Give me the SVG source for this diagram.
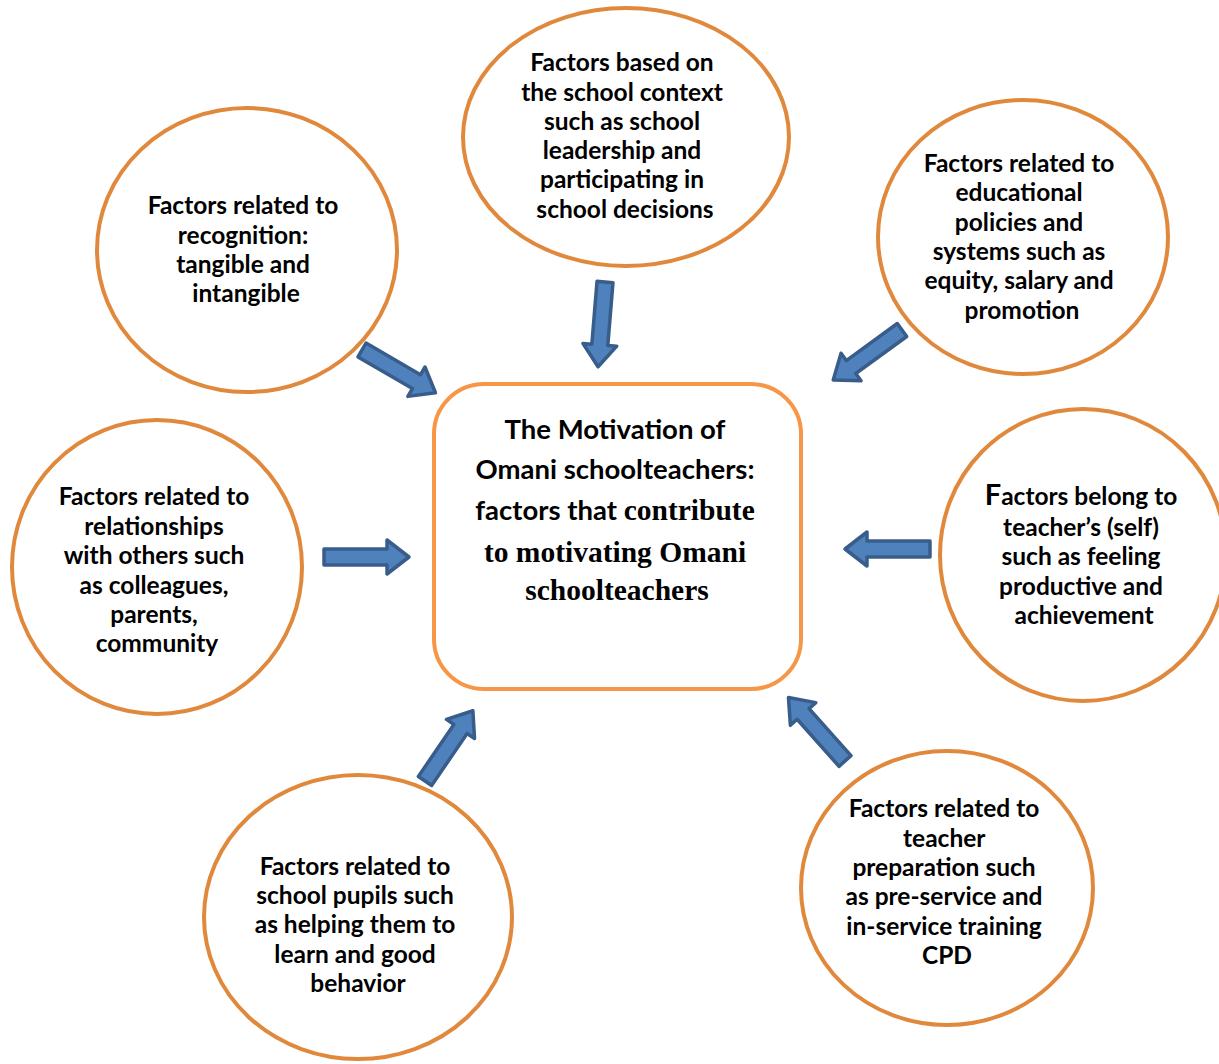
<svg xmlns="http://www.w3.org/2000/svg" xmlns:xlink="http://www.w3.org/1999/xlink" width="1219" height="1064" viewBox="0 0 1219 1064">
  <style>
    .factor { fill: #ffffff; stroke: #E0893D; stroke-width: 4; }
    .core { fill: #ffffff; stroke: #F79646; stroke-width: 4; }
    .lbl { font-family: Lato, "Liberation Sans", sans-serif; font-weight: bold; font-size: 24.5px; fill: #000000; text-anchor: middle; }
    .core-sans { font-family: Lato, "Liberation Sans", sans-serif; font-weight: bold; font-size: 27.5px; }
    .core-serif { font-family: "Liberation Serif", serif; font-weight: bold; font-size: 29.5px; }
    .arrow { fill: #4F81BD; stroke: #385D8A; stroke-width: 3.5; stroke-linejoin: round; }
  </style>
  <defs>
    <!-- block arrow pointing along +x, tail at origin, tip at x=85 -->
    <path id="blockArrow" d="M0,-8 L63,-8 L63,-17 L85,0 L63,17 L63,8 L0,8 Z"/>
  </defs>

  <rect width="1219" height="1064" fill="#ffffff"/>

  <!-- connectors: block arrows pointing at the central box -->
  <g id="connectors">
    <use xlink:href="#blockArrow" class="arrow" transform="translate(362,350) rotate(30.2)"/>
    <use xlink:href="#blockArrow" class="arrow" transform="translate(605,282) rotate(94.7)"/>
    <use xlink:href="#blockArrow" class="arrow" transform="translate(902,330) rotate(144)"/>
    <use xlink:href="#blockArrow" class="arrow" transform="translate(930,549) rotate(180)"/>
    <use xlink:href="#blockArrow" class="arrow" transform="translate(324,557) rotate(0)"/>
    <use xlink:href="#blockArrow" class="arrow" transform="translate(425,781) rotate(-55.7)"/>
    <use xlink:href="#blockArrow" class="arrow" transform="translate(845,761) rotate(-131.7)"/>
  </g>

  <g id="core">
    <rect class="core" x="434" y="384" width="367" height="305" rx="50" ry="50"/>
    <text text-anchor="middle" fill="#000000">
      <tspan class="core-sans" x="617" y="439">The Motivation of</tspan>
      <tspan class="core-sans" x="617" y="479">Omani schoolteachers:</tspan>
      <tspan x="617" y="520"><tspan class="core-sans">factors that </tspan><tspan class="core-serif">contribute</tspan></tspan>
      <tspan class="core-serif" x="617" y="562">to motivating Omani</tspan>
      <tspan class="core-serif" x="617" y="600">schoolteachers</tspan>
    </text>
  </g>

  <g id="recognition">
    <ellipse class="factor" cx="247" cy="250" rx="150" ry="142"/>
    <text class="lbl">
      <tspan x="246" y="214">Factors related to</tspan>
      <tspan x="246" y="244">recognition:</tspan>
      <tspan x="246" y="273">tangible and</tspan>
      <tspan x="246" y="302">intangible</tspan>
    </text>
  </g>

  <g id="school-context">
    <ellipse class="factor" cx="626" cy="137" rx="163" ry="129"/>
    <text class="lbl">
      <tspan x="625" y="71">Factors based on</tspan>
      <tspan x="625" y="101">the school context</tspan>
      <tspan x="625" y="130">such as school</tspan>
      <tspan x="625" y="159">leadership and</tspan>
      <tspan x="625" y="188">participating in</tspan>
      <tspan x="625" y="218">school decisions</tspan>
    </text>
  </g>

  <g id="policies">
    <ellipse class="factor" cx="1023" cy="237" rx="145" ry="137"/>
    <text class="lbl">
      <tspan x="1022" y="172">Factors related to</tspan>
      <tspan x="1022" y="201">educational</tspan>
      <tspan x="1022" y="231">policies and</tspan>
      <tspan x="1022" y="260">systems such as</tspan>
      <tspan x="1022" y="289">equity, salary and</tspan>
      <tspan x="1022" y="319">promotion</tspan>
    </text>
  </g>

  <g id="self">
    <ellipse class="factor" cx="1083" cy="555" rx="143" ry="146"/>
    <text class="lbl">
      <tspan x="1084" y="505"><tspan font-size="29px">F</tspan>actors belong to</tspan>
      <tspan x="1084" y="536">teacher’s (self)</tspan>
      <tspan x="1084" y="565">such as feeling</tspan>
      <tspan x="1084" y="595">productive  and</tspan>
      <tspan x="1084" y="624">achievement</tspan>
    </text>
  </g>

  <g id="relationships">
    <ellipse class="factor" cx="157" cy="567" rx="145" ry="147"/>
    <text class="lbl">
      <tspan x="157" y="505">Factors related to</tspan>
      <tspan x="157" y="535">relationships</tspan>
      <tspan x="157" y="564">with others such</tspan>
      <tspan x="157" y="594">as colleagues,</tspan>
      <tspan x="157" y="623">parents,</tspan>
      <tspan x="157" y="652">community</tspan>
    </text>
  </g>

  <g id="pupils">
    <ellipse class="factor" cx="358" cy="917" rx="154" ry="142"/>
    <text class="lbl">
      <tspan x="358" y="875">Factors related to</tspan>
      <tspan x="358" y="904">school pupils such</tspan>
      <tspan x="358" y="933">as helping them to</tspan>
      <tspan x="358" y="963">learn and good</tspan>
      <tspan x="358" y="992">behavior</tspan>
    </text>
  </g>

  <g id="teacher-preparation">
    <ellipse class="factor" cx="947" cy="888" rx="146" ry="137"/>
    <text class="lbl">
      <tspan x="947" y="817">Factors related to</tspan>
      <tspan x="947" y="847">teacher</tspan>
      <tspan x="947" y="876">preparation such</tspan>
      <tspan x="947" y="905">as pre-service and</tspan>
      <tspan x="947" y="935">in-service training</tspan>
      <tspan x="947" y="964">CPD</tspan>
    </text>
  </g>
</svg>
